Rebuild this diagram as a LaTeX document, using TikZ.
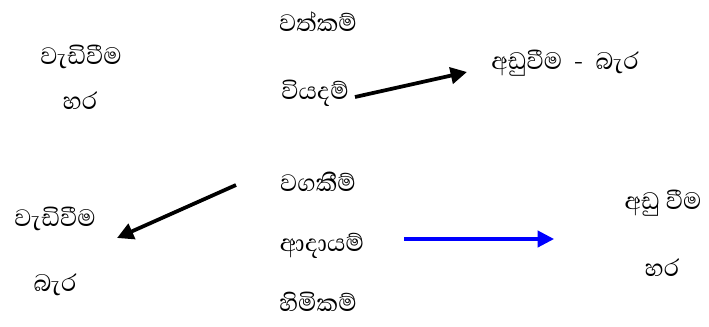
\documentclass[tikz,border=0pt]{standalone}
\usepackage{fontspec}
\usepackage{tikz}
\usetikzlibrary{arrows.meta}
\newfontfamily\sinhala[Script=Sinhala]{Abhaya Libre}
\tikzset{lbl/.style = {inner sep = 0, font = \sinhala\fontsize{26}{28}\selectfont}}
\tikzset{arr/.style = {line width = 3.2pt, -{Triangle[length = 14pt, width = 14pt]}}}
\definecolor{mblue}{rgb}{0, 0, 1}

\begin{document}
\begin{tikzpicture}[x=0.03cm, y=-0.03cm]
      \useasboundingbox (0, 0) rectangle (709, 326);
      % middle column
      \node [lbl] (assets) at (318, 22) {වත්කම්};
      \node [lbl] (expenses) at (315, 93) {වියදම්};
      \node [lbl] (liabs) at (318, 182) {වගකීම්};
      \node [lbl] (income) at (322, 246) {ආදායම්};
      \node [lbl] (equity) at (318, 302) {හිමිකම්};
      % left side
      \node [lbl] (incdr) at (81, 57) {වැඩිවීම};
      \node [lbl] (dr) at (80, 101) {හර};
      \node [lbl] (inccr) at (55, 219) {වැඩිවීම};
      \node [lbl] (cr) at (55, 285) {බැර};
      % right side
      \node [lbl] (deccr) at (565, 63) {අඩුවීම\ \ -\ \ බැර};
      \node [lbl] (decdr) at (663, 203) {අඩු වීම};
      \node [lbl] (dr2) at (662, 268) {හර};

      \coordinate (a1) at (355, 97);
      \coordinate (a2) at (467, 72);
      \coordinate (b1) at (236, 185);
      \coordinate (b2) at (117, 238);
      \coordinate (c1) at (404, 239);
      \coordinate (c2) at (554, 239);
      \draw [arr] (a1) -- (a2);
      \draw [arr] (b1) -- (b2);
      \draw [arr, mblue, line width = 2.6pt] (c1) -- (c2);

    \end{tikzpicture}
\end{document}
